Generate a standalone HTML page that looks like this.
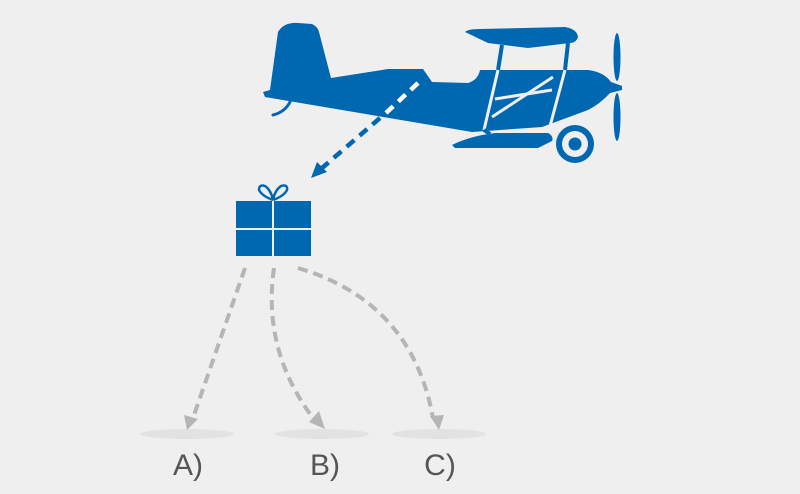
<!DOCTYPE html>
<html><head><style>
html,body{margin:0;padding:0;background:#efefef;}
svg{display:block;}
</style></head><body>
<svg width="800" height="494" viewBox="0 0 800 494" xmlns="http://www.w3.org/2000/svg">
<rect width="800" height="494" fill="#efefef"/>
<!-- shadows -->
<ellipse cx="187" cy="434" rx="47" ry="5" fill="#e2e2e2"/>
<ellipse cx="322" cy="434" rx="47" ry="5" fill="#e2e2e2"/>
<ellipse cx="439" cy="434" rx="47" ry="5" fill="#e2e2e2"/>
<!-- plane -->
<g fill="#0067b1">
<path d="M270,90 L278,32 Q284,22 298,23 L312,24 Q318,27 319,32 L331,78 L388,69 L423,69 L432,82 L468,83 Q478,80 480,70 L588,70 Q604,72 611,82 L622,86 L622,90 L610,93 Q600,104 588,110 L542,127 L472,132 L265,97 L263,92 Z"/>
<path d="M465,32 Q468,29 480,29 L565,27 Q577,29 578,37 Q576,43 570,43 L528,48 L488,43 Z"/>
<path d="M452,145 Q470,136 495,133 L548,133 Q554,136 552,141 L538,148 L455,148 Z"/>
<ellipse cx="617" cy="57" rx="3.5" ry="24"/>
<ellipse cx="617" cy="117" rx="3.5" ry="24"/>
<circle cx="575" cy="144" r="19"/>
</g>
<circle cx="575" cy="144" r="13" fill="#efefef"/>
<circle cx="575" cy="144" r="6.5" fill="#0067b1"/>
<path d="M290,102 Q285,112 273,115" fill="none" stroke="#0067b1" stroke-width="3" stroke-linecap="round"/>
<!-- struts -->
<line x1="502" y1="45" x2="498" y2="70" stroke="#0067b1" stroke-width="4"/>
<line x1="568" y1="43" x2="565" y2="70" stroke="#0067b1" stroke-width="4"/>
<line x1="498" y1="70" x2="484" y2="130" stroke="#efefef" stroke-width="3"/>
<line x1="565" y1="70" x2="549" y2="130" stroke="#efefef" stroke-width="3"/>
<line x1="495" y1="99" x2="552" y2="90" stroke="#efefef" stroke-width="3"/>
<line x1="492" y1="117" x2="553" y2="77" stroke="#efefef" stroke-width="3"/>
<line x1="484" y1="130" x2="490" y2="134" stroke="#0067b1" stroke-width="4"/>
<!-- drop arrow -->
<line x1="418" y1="83" x2="386" y2="113" stroke="#ffffff" stroke-width="4.5" stroke-dasharray="10 7"/>
<line x1="380" y1="118" x2="322" y2="168" stroke="#0067b1" stroke-width="4.5" stroke-dasharray="10 7"/>
<polygon points="311,178 317,162 327,172" fill="#0067b1"/>
<!-- gift -->
<rect x="236" y="201" width="75" height="55" fill="#0067b1"/>
<line x1="273" y1="201" x2="273" y2="256" stroke="#efefef" stroke-width="2"/>
<line x1="236" y1="229" x2="311" y2="229" stroke="#efefef" stroke-width="2"/>
<path d="M273,200 Q262,196 259,190 Q259,184 265,186 Q271,190 273,200 Q275,190 281,186 Q288,184 287,190 Q284,196 273,200" fill="none" stroke="#0067b1" stroke-width="2.5"/>
<!-- gray arrows -->
<g fill="none" stroke="#b5b5b5" stroke-width="4" stroke-dasharray="10 6">
<path d="M245,268 L193,418"/>
<path d="M274,268 Q262,350 313,418"/>
<path d="M298,268 Q412,302 433,418"/>
</g>
<g fill="#b5b5b5">
<polygon points="187,430 184,415 198,419"/>
<polygon points="325,429 309,422 319,411"/>
<polygon points="439,430 430,416 444,415"/>
</g>
<g font-family="Liberation Sans, sans-serif" font-size="30" fill="#555" text-anchor="middle">
<text x="188" y="475">A)</text>
<text x="325" y="475">B)</text>
<text x="440" y="475">C)</text>
</g>
</svg>
</body></html>
